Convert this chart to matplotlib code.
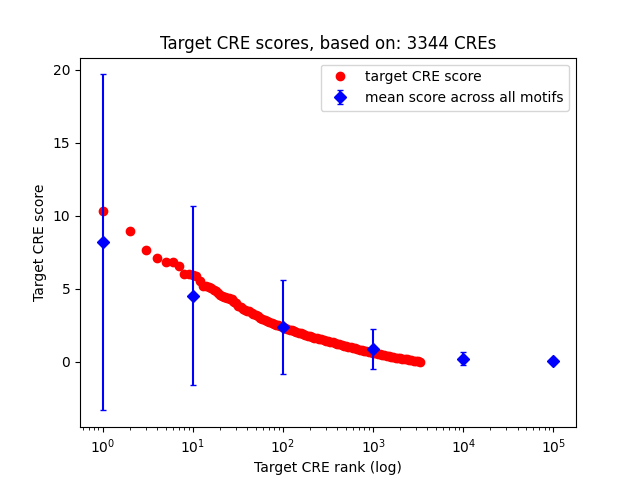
import numpy as np
import matplotlib
matplotlib.use("Agg")
import matplotlib.pyplot as plt

n_cres = 3344

# target CRE scores at these ranks
ranks = [1, 2, 3, 4, 5, 6, 7, 8, 9, 10,
         11, 12, 13, 14, 15, 16, 17, 18, 19, 20, 21, 22, 23, 24, 25, 26, 27, 28, 29,
         30, 32, 34, 36, 38, 40, 42, 45, 47, 50, 53, 56, 59, 63, 67, 71, 75, 80, 84,
         89, 94, 100, 106, 112, 119, 126, 133, 141, 150, 158, 168, 178, 188, 200, 211,
         224, 237, 251, 266, 282, 299, 316, 335, 355, 376, 398, 422, 447, 473, 501,
         531, 562, 596, 631, 668, 708, 750, 794, 841, 891, 944, 1000, 1059, 1122,
         1189, 1259, 1334, 1413, 1496, 1585, 1679, 1778, 1884, 1995, 2113, 2239,
         2371, 2512, 2661, 2818, 2985, 3162, 3344]
scores = [10.3, 8.93, 7.63, 7.12, 6.87, 6.87, 6.58, 6.03, 6.0, 5.95,
          5.88, 5.57, 5.22, 5.2, 5.12, 5.06, 4.95, 4.82, 4.7, 4.6, 4.5, 4.44, 4.42,
          4.4, 4.36, 4.32, 4.3, 4.2, 4.12,
          4.05, 3.85, 3.75, 3.65, 3.58, 3.5, 3.45, 3.35, 3.3, 3.2, 3.12, 3.03, 2.97,
          2.88, 2.8, 2.72, 2.66, 2.6, 2.55, 2.5, 2.44, 2.38, 2.32, 2.26, 2.2, 2.15,
          2.1, 2.05, 2.0, 1.95, 1.9, 1.85, 1.8, 1.75, 1.71, 1.67, 1.62, 1.58, 1.54,
          1.5, 1.46, 1.42, 1.37, 1.33, 1.29, 1.25, 1.21, 1.17, 1.12, 1.08, 1.04, 1.0,
          0.96, 0.92, 0.88, 0.84, 0.8, 0.76, 0.73, 0.69, 0.65, 0.62, 0.58, 0.55,
          0.52, 0.48, 0.45, 0.42, 0.39, 0.36, 0.33, 0.3, 0.27, 0.25, 0.22, 0.19,
          0.17, 0.14, 0.12, 0.09, 0.07, 0.04, 0.01]

# mean score across all motifs
mean_ranks = [1, 10, 100, 1000, 10000, 100000]
mean_scores = [8.18, 4.54, 2.4, 0.87, 0.22, 0.05]
mean_err = [11.5, 6.15, 3.22, 1.35, 0.45, 0.0]

fig, ax = plt.subplots(figsize=(6.4, 4.8), dpi=100)
ax.plot(ranks, scores, 'ro', label='target CRE score')
ax.errorbar(mean_ranks, mean_scores, yerr=mean_err, fmt='D', color='blue',
            capsize=2.5, label='mean score across all motifs')
ax.set_xscale('log')
ax.set_xlabel('Target CRE rank (log)')
ax.set_ylabel('Target CRE score')
ax.set_title('Target CRE scores, based on: %d CREs' % n_cres)
ax.legend()
fig.savefig('out.png')
